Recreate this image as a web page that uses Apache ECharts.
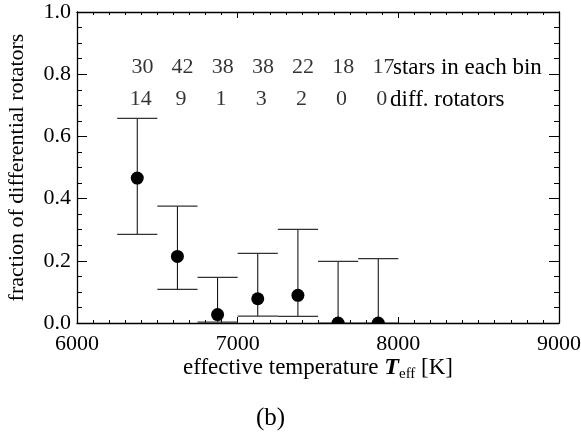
<!DOCTYPE html>
<html>
<head>
<meta charset="utf-8">
<script src="https://cdn.jsdelivr.net/npm/echarts@6/dist/echarts.min.js"></script>
<style>html,body{margin:0;padding:0;background:#fff}#c{width:581px;height:432px}</style>
</head>
<body>
<div id="c"></div>
<script>
// ---- data ----
const binCenters   = [6375, 6625, 6875, 7125, 7375, 7625, 7875];
const binWidth     = 250;
const starsPerBin  = [30, 42, 38, 38, 22, 18, 17];
const diffRotators = [14, 9, 1, 3, 2, 0, 0];
const fraction     = [0.466, 0.214, 0.027, 0.078, 0.089, 0.0, 0.0];
const errLow       = [0.285, 0.108, 0.003, 0.022, 0.021, 0.0, 0.0];
const errHigh      = [0.658, 0.376, 0.147, 0.224, 0.301, 0.198, 0.207];
const xTicks = [6000, 7000, 8000, 9000];
const yTicks = [0.0, 0.2, 0.4, 0.6, 0.8, 1.0];

const FONT = 'Liberation Serif';
const chart = echarts.init(document.getElementById('c'), null, {renderer: 'canvas'});

const errData = binCenters.map((x, i) => [x, errLow[i], errHigh[i]]);
const ptData = binCenters.map((x, i) => [x, fraction[i]]);
const labelShift = 32;
const starsRow = binCenters.map((x, i) => ({value: [x + labelShift, 0.824], label: {formatter: String(starsPerBin[i])}}));
const diffRow = binCenters.map((x, i) => ({value: [x + labelShift - 10, 0.72], label: {formatter: String(diffRotators[i])}}));

const axisLineStyle = {color: '#000', width: 1.3};
function xAxisCfg(pos, showLabel) {
  return {
    type: 'value', position: pos, min: xTicks[0], max: xTicks[xTicks.length - 1], interval: 1000,
    axisLine: {show: true, onZero: false, lineStyle: axisLineStyle},
    axisTick: {show: true, inside: true, length: 6, lineStyle: {color: '#000', width: 1}},
    minorTick: {show: true, splitNumber: 10, length: 3, lineStyle: {color: '#000', width: 1}},
    splitLine: {show: false}, minorSplitLine: {show: false},
    axisLabel: {show: showLabel, fontFamily: FONT, fontSize: 22, color: '#000', margin: 10,
      formatter: v => String(v)},
    name: showLabel ? '{n|effective temperature }{t|T}{s|eff}{n| [K]}' : '',
    nameLocation: 'middle', nameGap: 31, nameMoveOverlap: false,
    nameTextStyle: {
      color: '#000', fontFamily: FONT,
      rich: {
        n: {fontFamily: FONT, fontSize: 23, color: '#000'},
        t: {fontFamily: FONT, fontSize: 24, color: '#000', fontWeight: 'bold', fontStyle: 'italic'},
        s: {fontFamily: FONT, fontSize: 15, color: '#000', padding: [13, 0, 0, 0]}
      }
    }
  };
}
function yAxisCfg(pos, showLabel) {
  return {
    type: 'value', position: pos, min: 0, max: 1, interval: 0.2,
    axisLine: {show: true, onZero: false, lineStyle: axisLineStyle},
    axisTick: {show: true, inside: true, length: 10, lineStyle: {color: '#000', width: 1}},
    minorTick: {show: true, splitNumber: 4, length: 5, lineStyle: {color: '#000', width: 1}},
    splitLine: {show: false}, minorSplitLine: {show: false},
    axisLabel: {show: showLabel, fontFamily: FONT, fontSize: 22, color: '#000', margin: 6,
      formatter: v => v.toFixed(1)},
    name: showLabel ? 'fraction of differential rotators' : '',
    nameLocation: 'middle', nameGap: 49, nameRotate: 90, nameMoveOverlap: false,
    nameTextStyle: {color: '#000', fontFamily: FONT, fontSize: 22}
  };
}
const txt = (s, size) => ({text: s, fontFamily: FONT, fontSize: size, fill: '#000'});

chart.setOption({
  animation: false,
  backgroundColor: '#fff',
  textStyle: {fontFamily: FONT, color: '#000'},
  grid: {left: 77, right: 22, top: 12, bottom: 109, containLabel: false, outerBoundsMode: 'none'},
  xAxis: [xAxisCfg('bottom', true), xAxisCfg('top', false)],
  yAxis: [yAxisCfg('left', true), yAxisCfg('right', false)],
  graphic: [
    {type: 'text', left: 393, top: 56, style: txt('stars in each bin', 23)},
    {type: 'text', left: 390, top: 88, style: txt('diff. rotators', 23)},
    {type: 'text', left: 256, top: 406, style: txt('(b)', 25)}
  ],
  series: [
    {
      type: 'custom', clip: true, data: errData, z: 2,
      renderItem: function (params, api) {
        const x = api.value(0), lo = api.value(1), hi = api.value(2);
        const pLo = api.coord([x, lo]), pHi = api.coord([x, hi]);
        const l = api.coord([x - binWidth / 2, hi])[0], r = api.coord([x + binWidth / 2, hi])[0];
        return {type: 'group', children: [
          {type: 'line', shape: {x1: pLo[0], y1: pLo[1], x2: pHi[0], y2: pHi[1]}, style: {stroke: '#000', lineWidth: 1}},
          {type: 'line', shape: {x1: l, y1: pHi[1], x2: r, y2: pHi[1]}, style: {stroke: '#333', lineWidth: 1.2}},
          {type: 'line', shape: {x1: l, y1: pLo[1], x2: r, y2: pLo[1]}, style: {stroke: '#333', lineWidth: 1.2}}
        ]};
      }
    },
    {
      type: 'custom', clip: true, data: ptData, z: 3,
      renderItem: function (params, api) {
        const p = api.coord([api.value(0), api.value(1)]);
        return {type: 'circle', shape: {cx: p[0], cy: p[1], r: 6.5}, style: {fill: '#000'}};
      }
    },
    {
      type: 'scatter', data: starsRow, symbolSize: 0, silent: true,
      label: {show: true, position: 'inside', fontFamily: FONT, fontSize: 22, color: '#000'}
    },
    {
      type: 'scatter', data: diffRow, symbolSize: 0, silent: true,
      label: {show: true, position: 'inside', fontFamily: FONT, fontSize: 22, color: '#000'}
    }
  ]
});
</script>
</body>
</html>
